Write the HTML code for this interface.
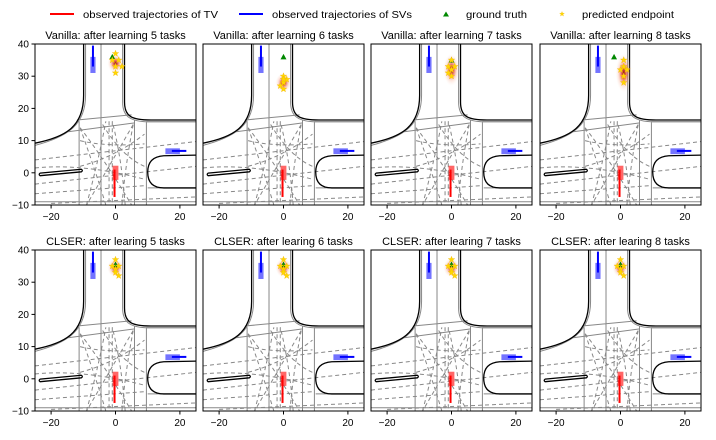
<!DOCTYPE html>
<html><head><meta charset="utf-8"><style>
body{margin:0;background:#fff;}
svg{display:block;font-family:"Liberation Sans",sans-serif;}
</style></head><body>
<svg id="chart" width="716" height="440" viewBox="0 0 716 440">
<defs>
<radialGradient id="heat" cx="50%" cy="50%" r="50%">
<stop offset="0" stop-color="#8b0000" stop-opacity="0.95"/>
<stop offset="0.3" stop-color="#e0301e" stop-opacity="0.7"/>
<stop offset="0.65" stop-color="#f7a080" stop-opacity="0.3"/>
<stop offset="1" stop-color="#fde0d0" stop-opacity="0"/>
</radialGradient>
<g id="road" fill="none">
<g stroke="#888" stroke-width="1">
<path vector-effect="non-scaling-stroke" d="M-11.3,16 L-11.3,-10 M-4.5,40 L-4.5,-10 M5.9,16.5 L5.9,-10 M9.6,16 L9.6,-10 M-15,12.7 L6,15.5 M-11.9,16.4 L5,18 M9.6,15.9 L25,15.9 M10,-4.7 L25,-4.7 M-25,-9 L25,-9 M-9.3,40 L-9.3,24 C-9.3,14.5 -15.5,11 -25,8.5 M2.2,40 L2.2,22 C2.2,17.5 4.5,15.8 11,15.8 L25,15.8"/>
</g>
<g stroke="#888" stroke-width="1" stroke-dasharray="4,3">
<path vector-effect="non-scaling-stroke" d="M-25,4 L25,9.7 M-25,-3.5 L25,2 M-25,-6.5 L9,-4 M-20,-9.5 L25,-7.5 M-2,16 L-2,-10 M-1,16 L-1,-10 M-11,14 Q-6,0 -3,-10 M-11,14 Q-4,5 5,-10 M5.5,15 Q-2,2 -9,-10 M5.5,15 Q3,2 2,-10 M-11,10 Q-3,8 9,9 M-11,2 Q0,5 9,12 M-25,1.5 Q-10,3 9,-2 M-4,15 Q2,5 9,2 M-9,-10 Q-5,5 -3,16 M3,-10 Q2,4 -1,16"/>
</g>
<g stroke="#000" stroke-width="1.3">
<path vector-effect="non-scaling-stroke" d="M-9.9,40 L-9.9,24 C-9.9,14 -16,11 -25,9.2 M2.8,40 L2.8,22 C2.8,17.5 5,16.4 11,16.4 L25,16.4 M25,5.5 L15,5.3 Q10,5 10,0.2 Q10,-4.7 15,-4.7 L25,-4.7 M-23.4,-0.9 L-10.6,0.3 Q-10,0.7 -10.6,1.1 L-23.4,-0.1 Q-24,-0.5 -23.4,-0.9 Z"/>
</g>
</g>
<polygon id="star" points="0,-3.4 0.9,-1.1 3.3,-1.1 1.4,0.4 2.1,2.8 0,1.4 -2.1,2.8 -1.4,0.4 -3.3,-1.1 -0.9,-1.1" fill="#ffd700" stroke="#f0b000" stroke-width="0.3"/>
</defs>
<g font-size="10.5" fill="#000">
<line x1="50" y1="14" x2="74" y2="14" stroke="#f00" stroke-width="2"/><text x="83" y="18" textLength="135" lengthAdjust="spacingAndGlyphs">observed trajectories of TV</text>
<line x1="239" y1="14" x2="263" y2="14" stroke="#00f" stroke-width="2"/><text x="272" y="18" textLength="140" lengthAdjust="spacingAndGlyphs">observed trajectories of SVs</text>
<polygon points="446,11.5 449,16.5 443,16.5" fill="#080"/><text x="466" y="18" textLength="61" lengthAdjust="spacingAndGlyphs">ground truth</text>
<use href="#star" transform="translate(562,14) scale(0.75)"/><text x="582" y="18" textLength="92" lengthAdjust="spacingAndGlyphs">predicted endpoint</text>
</g>
<g id="panels"></g>
</svg>
<script>
const titles = ["Vanilla: after learning 5 tasks","Vanilla: after learning 6 tasks","Vanilla: after learning 7 tasks","Vanilla: after learning 8 tasks","CLSER: after learing 5 tasks","CLSER: after learing 6 tasks","CLSER: after learing 7 tasks","CLSER: after learing 8 tasks"];
const gtX = [-1,0,0,-2,0,0,0,0];
const gtY = [36,36,35,36,35.5,35.5,35.5,35.5];
const predX = [[0,1,-1,2,0,0],[0,1,0,-1,0,0],[0,-1,1,0,-1,0],[1,1,0,2,1,1],[0,1,-1,0,0,1],[0,1,-1,0,0,1],[0,1,-1,0,0,1],[0,1,-1,0,0,1]];
const predY = [[37,35,35,33,33,31],[30,29,28,27,26,29],[35,33,33,32,31,30],[35,33,32,32,30,28],[37,35,35,34,33,32],[37,35,35,34,33,32],[37,35,35,34,33,32],[37,35,35,34,33,32]];
const heatX = [0,0,0,1,0,0,0,0];
const heatY = [34,28,32,31,34.5,34.5,34.5,34.5];
const heatRy = [3,3,5,6,3,3,3,3];
const xTicks = [-20,0,20];
const yTicks = [40,30,20,10,0,-10];
const colL = [35,203,371,540], rowT=[44,250];
const W=161,H=161;
const NS="http://www.w3.org/2000/svg";
const root=document.getElementById('panels');
function mk(t,a,p){const e=document.createElementNS(NS,t);for(const k in a)e.setAttribute(k,a[k]);(p||root).appendChild(e);return e;}
for(let i=0;i<8;i++){
 const L=colL[i%4],T=rowT[Math.floor(i/4)];
 const X=x=>L+(x+25)*W/50, Y=y=>T+(40-y)*H/50;
 const g=mk('g',{});
 
 
 const cid='c'+i;
 const cp=mk('clipPath',{id:cid},g);mk('rect',{x:L,y:T,width:W,height:H},cp);
 const inner=mk('g',{'clip-path':'url(#'+cid+')'},g);
 const r=mk('use',{href:'#road',transform:`matrix(${W/50},0,0,${-H/50},${X(0)},${Y(0)})`},inner);
 
 
 const hm=mk('ellipse',{cx:X(heatX[i]),cy:Y(heatY[i]),rx:2.5*W/50,ry:heatRy[i]*H/50,fill:'url(#heat)'},inner);
 
 
 const sv1=mk('g',{},inner);
 
 
 mk('rect',{x:X(-7.8),y:Y(36),width:X(-6.2)-X(-7.8),height:Y(31)-Y(36),fill:'#00f','fill-opacity':0.55},sv1);
 mk('line',{x1:X(-7),y1:Y(39.5),x2:X(-7),y2:Y(33),stroke:'#00f','stroke-width':2},sv1);
 const sv2=mk('g',{},inner);
 
 
 mk('rect',{x:X(15.5),y:Y(7.6),width:X(20)-X(15.5),height:Y(5.8)-Y(7.6),fill:'#00f','fill-opacity':0.55},sv2);
 mk('line',{x1:X(17.5),y1:Y(6.8),x2:X(22),y2:Y(6.8),stroke:'#00f','stroke-width':2},sv2);
 const tv=mk('g',{},inner);
 
 
 mk('rect',{x:X(-0.9),y:Y(2.2),width:X(0.9)-X(-0.9),height:Y(-2.2)-Y(2.2),fill:'#f00','fill-opacity':0.6},tv);
 mk('line',{x1:X(-0.3),y1:Y(1),x2:X(-0.3),y2:Y(-7.5),stroke:'#f00','stroke-width':2},tv);
 const gt=mk('polygon',{points:`${X(gtX[i])},${Y(gtY[i])-3} ${X(gtX[i])+3},${Y(gtY[i])+2.5} ${X(gtX[i])-3},${Y(gtY[i])+2.5}`,fill:'#080'},inner);
 
 
 for(let j=0;j<predX[i].length;j++){
  const s=mk('use',{href:'#star',x:X(predX[i][j]),y:Y(predY[i][j])},inner);
  
  
 }
 mk('rect',{x:L,y:T,width:W,height:H,fill:'none',stroke:'#000','stroke-width':1},g);
 const tt=mk('text',{x:L+W/2,y:T-5,'text-anchor':'middle','font-size':11},g);tt.textContent=titles[i];
 
 
 for(const t of xTicks){mk('line',{x1:X(t),y1:T+H,x2:X(t),y2:T+H+3.5,stroke:'#000'},g);
  const e=mk('text',{x:X(t),y:T+H+15,'text-anchor':'middle','font-size':10},g);e.textContent=t<0?'\u2212'+(-t):t;
  
  }
 if(i%4===0)for(const t of yTicks){mk('line',{x1:L-3.5,y1:Y(t),x2:L,y2:Y(t),stroke:'#000'},g);
  const e=mk('text',{x:L-6,y:Y(t)+3.5,'text-anchor':'end','font-size':10},g);e.textContent=t<0?'\u2212'+(-t):t;
  
  }
}
</script>
</body></html>
